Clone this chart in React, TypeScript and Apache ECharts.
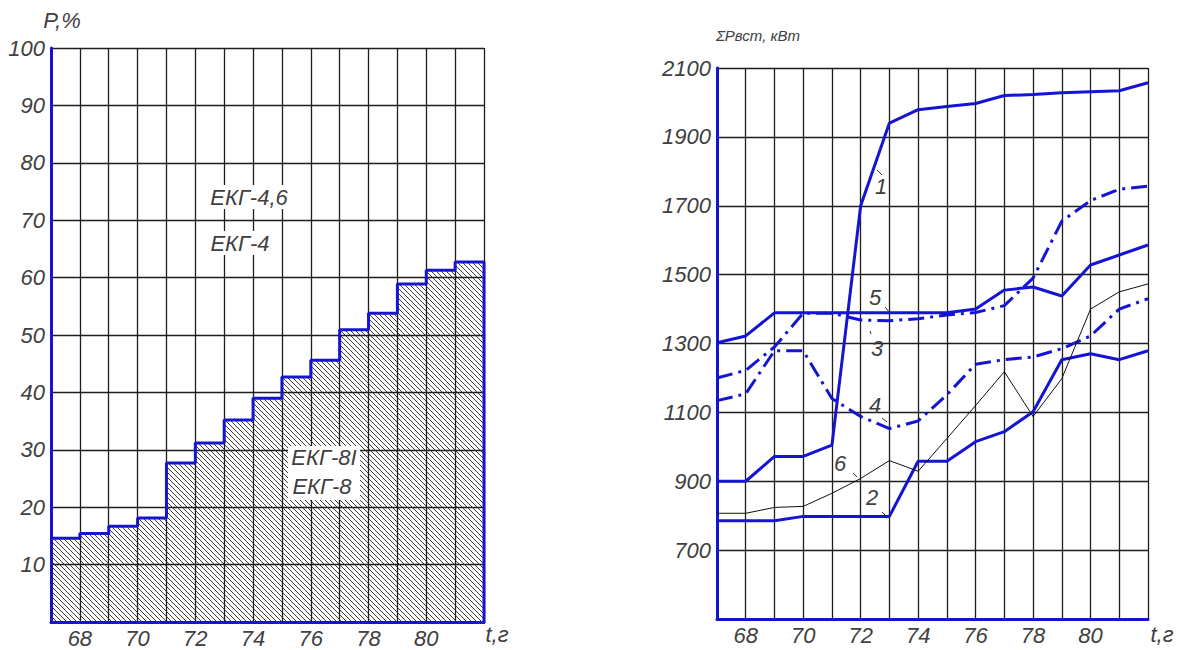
import React, { useEffect, useRef } from 'react';
import * as echarts from 'echarts';

// ---------- data ----------
const YEARS = [67, 68, 69, 70, 71, 72, 73, 74, 75, 76, 77, 78, 79, 80, 81, 82];
// share of ЕКГ-8И / ЕКГ-8 (%) for the year interval starting at YEARS[i]
const SHARE_EKG8 = [14.6, 15.4, 16.7, 18.1, 27.7, 31.2, 35.2, 39.0, 42.7, 45.6, 50.9, 53.8, 58.9, 61.3, 62.7];
const X_LABELS = [68, 70, 72, 74, 76, 78, 80];
const P_LABELS = [10, 20, 30, 40, 50, 60, 70, 80, 90, 100];
const POWER_LABELS = [700, 900, 1100, 1300, 1500, 1700, 1900, 2100];

// installed power, kW, per year (YEARS)
const LINE1 = [900, 900, 972, 972, 1005, 1700, 1940, 1979, 1988, 1997, 2020, 2023, 2028, 2031, 2034, 2057];
const LINE2 = [785, 785, 785, 798, 798, 798, 798, 958, 958, 1015, 1044, 1102, 1253, 1270, 1253, 1279];
const LINE3 = [1200, 1222, 1290, 1388, 1388, 1368, 1366, 1372, 1383, 1390, 1410, 1490, 1655, 1715, 1748, 1757];
const LINE4 = [1134, 1154, 1279, 1279, 1140, 1088, 1053, 1075, 1151, 1240, 1253, 1261, 1285, 1322, 1400, 1430];
const LINE5 = [1302, 1322, 1389, 1389, 1389, 1389, 1389, 1389, 1389, 1400, 1455, 1464, 1438, 1528, 1557, 1586];
const LINE6 = [807, 807, 824, 827, 865, 908, 960, 929, 1024, 1120, 1218, 1088, 1198, 1400, 1450, 1473];

// ---------- styles ----------
const FONT = "'Liberation Sans', Arimo, Arial, sans-serif";
const TXT = '#404040';
const BLUE = '#1414d2';
const GRID = '#1e1e1e';

const hatchSvg =
  '<svg xmlns="http://www.w3.org/2000/svg" width="5" height="5">' +
  '<path d="M-1,-1 L6,6 M-1,4 L1,6 M4,-1 L6,1" stroke="#262626" stroke-width="0.9" fill="none"/></svg>';
const HATCH_URL = 'data:image/svg+xml;utf8,' + encodeURIComponent(hatchSvg);

const zip = (ys: number[]) => ys.map((v, i) => [YEARS[i], v]);

const labelStyle = {
  fontSize: 22,
  lineHeight: 20,
  fontStyle: 'italic' as const,
  fontFamily: FONT,
  color: TXT,
};

function xAxis(gridIndex: number) {
  return {
    gridIndex,
    type: 'value',
    min: YEARS[0],
    max: YEARS[YEARS.length - 1],
    interval: 1,
    axisLine: { show: true, onZero: false, lineStyle: { color: BLUE, width: 3 } },
    axisTick: { show: false },
    splitLine: { show: true, lineStyle: { color: GRID, width: 1.3 } },
    axisLabel: {
      ...labelStyle,
      margin: 6,
      formatter: (v: number) => (X_LABELS.includes(v) ? String(v) : ''),
    },
  };
}

function leader(x1: number, y1: number, x2: number, y2: number) {
  return { type: 'line', shape: { x1, y1, x2, y2 }, style: { stroke: '#333', lineWidth: 1 }, z: 20 };
}
function txt(x: number, y: number, text: string, size = 22, extra: any = {}) {
  return {
    type: 'text',
    x,
    y,
    z: 20,
    style: {
      text,
      fontSize: size,
      fontStyle: 'italic',
      fontFamily: FONT,
      fill: TXT,
      align: 'center',
      verticalAlign: 'middle',
      ...extra,
    },
  };
}

export default function App() {
  const ref = useRef<HTMLDivElement>(null);
  useEffect(() => {
    if (!ref.current) return;
    const chart = echarts.init(ref.current, null, { renderer: 'svg' });

    const stepData = [
      ...SHARE_EKG8.map((v, i) => [YEARS[i], v]),
      [YEARS[YEARS.length - 1], SHARE_EKG8[SHARE_EKG8.length - 1]],
      [YEARS[YEARS.length - 1], 0],
    ];

    const thick = (data: number[], name: string, dash: any = 'solid') => ({
      name,
      type: 'line',
      xAxisIndex: 1,
      yAxisIndex: 1,
      data: zip(data),
      symbol: 'none',
      clip: false,
      z: 5,
      lineStyle: { color: BLUE, width: 3, type: dash },
    });

    const option: any = {
      animation: false,
      backgroundColor: '#fff',
      grid: [
        { left: 51, top: 48, width: 433, height: 574 },
        { left: 717, top: 68, width: 431, height: 551 },
      ],
      xAxis: [xAxis(0), xAxis(1)],
      yAxis: [
        {
          gridIndex: 0,
          type: 'value',
          min: 0,
          max: 100,
          interval: 10,
          axisLine: { show: true, onZero: false, lineStyle: { color: BLUE, width: 3 } },
          axisTick: { show: false },
          splitLine: { show: true, lineStyle: { color: GRID, width: 1.3 } },
          axisLabel: {
            ...labelStyle,
            margin: 6,
            formatter: (v: number) => (P_LABELS.includes(v) ? String(v) : ''),
          },
        },
        {
          gridIndex: 1,
          type: 'value',
          min: 500,
          max: 2100,
          interval: 100,
          axisLine: { show: true, onZero: false, lineStyle: { color: BLUE, width: 3 } },
          axisTick: { show: false },
          splitLine: { show: true, lineStyle: { color: [GRID, 'rgba(0,0,0,0)'], width: 1.3 } },
          axisLabel: {
            ...labelStyle,
            margin: 6,
            formatter: (v: number) => (POWER_LABELS.includes(v) ? String(v) : ''),
          },
        },
      ],
      series: [
        {
          name: 'ЕКГ-8',
          type: 'line',
          xAxisIndex: 0,
          yAxisIndex: 0,
          data: stepData,
          step: 'end',
          symbol: 'none',
          clip: false,
          z: 4,
          lineStyle: { color: BLUE, width: 3 },
          areaStyle: {
            opacity: 1,
            color: { image: HATCH_URL, repeat: 'repeat', imageWidth: 5, imageHeight: 5 },
          },
        },
        thick(LINE1, '1'),
        thick(LINE2, '2'),
        thick(LINE3, '3', [16, 6, 3, 6]),
        thick(LINE4, '4', [16, 6, 3, 6]),
        thick(LINE5, '5'),
        {
          name: '6',
          type: 'line',
          xAxisIndex: 1,
          yAxisIndex: 1,
          data: zip(LINE6),
          symbol: 'none',
          clip: false,
          z: 6,
          lineStyle: { color: '#111', width: 1 },
        },
      ],
      graphic: [
        txt(62, 20, 'P,%', 22),
        txt(249, 197, 'ЕКГ-4,6', 22, { backgroundColor: '#fff', padding: [1, 2] }),
        txt(240, 243, 'ЕКГ-4', 22, { backgroundColor: '#fff', padding: [1, 2] }),
        {
          type: 'rect',
          shape: { x: 288, y: 446, width: 72, height: 54 },
          style: { fill: '#fff' },
          z: 19,
        },
        txt(324, 457, 'ЕКГ-8І', 22),
        txt(322, 486, 'ЕКГ-8', 22),
        txt(497, 634, 't,г', 22),
        txt(758, 35, 'ΣPвст, кВт', 15),
        txt(1162, 634, 't,г', 22),
        txt(881, 186, '1', 22),
        leader(877, 170, 882, 175),
        txt(875, 297, '5', 22),
        leader(885, 307, 889, 312),
        txt(877, 348, '3', 22),
        leader(870, 331, 871, 334),
        txt(875, 405, '4', 22),
        leader(882, 418, 887, 422),
        txt(840, 463, '6', 22),
        leader(853, 473, 857, 477),
        txt(872, 497, '2', 22),
        leader(882, 512, 886, 516),
      ],
    };
    chart.setOption(option);
    return () => chart.dispose();
  }, []);
  return (
    <div
      ref={ref}
      style={{ position: 'absolute', left: 0, top: 0, width: 1177, height: 650, background: '#fff' }}
    />
  );
}
